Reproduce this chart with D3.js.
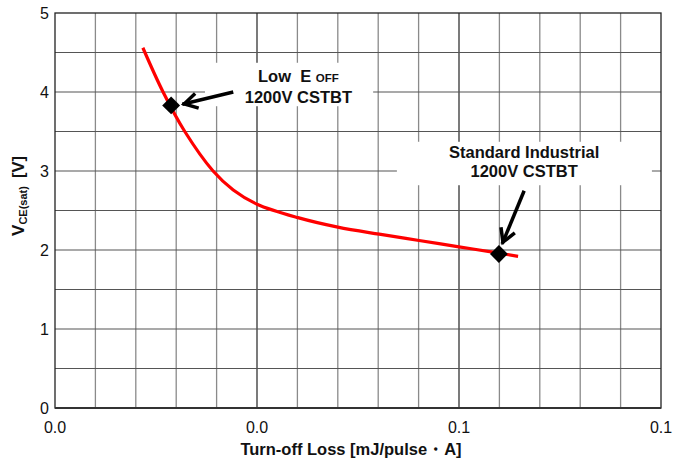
<!DOCTYPE html>
<html lang="en">
<head>
    <meta charset="UTF-8">
    <title>VCE(sat) vs Turn-off Loss</title>
    <script src="https://d3js.org/d3.v7.min.js"></script>
    <style>
        body { margin: 0; background: #fff; }
        svg { display: block; font-family: "Liberation Sans", Arial, sans-serif; }
        .tick-label { font-size: 16px; fill: #111; }
        .note { font-size: 16.5px; font-weight: bold; fill: #111; white-space: pre; }
    </style>
</head>
<body>
    <script>
        // curve
        const lossX = [0.0174, 0.0214, 0.0257, 0.0313, 0.0353, 0.0400, 0.0481, 0.0560, 0.0642, 0.0721, 0.0800, 0.0879, 0.0917];
        const vce = [4.56, 4.00, 3.50, 3.00, 2.76, 2.58, 2.41, 2.29, 2.20, 2.12, 2.04, 1.96, 1.92];

        // marked devices
        const deviceLoss = [0.0230, 0.0879];
        const deviceVce = [3.83, 1.95];

        const xTicks = [0, 0.04, 0.08, 0.12];
        const yTicks = [0, 1, 2, 3, 4, 5];

        const width = 673, height = 460;
        const margin = { top: 13, right: 12, bottom: 52, left: 55 };
        const w = width - margin.left - margin.right;
        const h = height - margin.top - margin.bottom;

        const svg = d3.select("body").append("svg")
            .attr("width", width)
            .attr("height", height);

        const g = svg.append("g")
            .attr("transform", `translate(${margin.left},${margin.top})`);

        const x = d3.scaleLinear().domain([0, 0.12]).range([0, w]);
        const y = d3.scaleLinear().domain([0, 5]).range([h, 0]);

        const isMajor = d => xTicks.some(t => Math.abs(t - d) < 1e-6);

        // grid: minor verticals every 0.008, horizontals every 0.5 V
        const xMinor = d3.range(1, 15).map(i => i * 0.008);
        g.append("g").selectAll("line")
            .data(xMinor)
            .enter().append("line")
            .attr("x1", d => x(d)).attr("x2", d => x(d))
            .attr("y1", 0).attr("y2", h)
            .attr("stroke", d => isMajor(d) ? "#333" : "#8a8a8a")
            .attr("stroke-width", d => isMajor(d) ? 1.3 : 1.3);

        const yGrid = d3.range(1, 10).map(i => i * 0.5);
        g.append("g").selectAll("line")
            .data(yGrid)
            .enter().append("line")
            .attr("x1", 0).attr("x2", w)
            .attr("y1", d => y(d)).attr("y2", d => y(d))
            .attr("stroke", "#555")
            .attr("stroke-width", 1.1);

        // white label boxes that hide the grid
        const boxes = [
            { x0: 0.0297, x1: 0.0630, y0: 3.82, y1: 4.37 },
            { x0: 0.0677, x1: 0.1182, y0: 2.82, y1: 3.37 }
        ];
        g.append("g").selectAll("rect")
            .data(boxes)
            .enter().append("rect")
            .attr("x", d => x(d.x0))
            .attr("y", d => y(d.y1))
            .attr("width", d => x(d.x1) - x(d.x0))
            .attr("height", d => y(d.y0) - y(d.y1))
            .attr("fill", "#fff");

        // plot frame
        g.append("rect")
            .attr("width", w).attr("height", h)
            .attr("fill", "none")
            .attr("stroke", "#222")
            .attr("stroke-width", 1.3);
        g.append("line")
            .attr("x1", 0).attr("x2", w)
            .attr("y1", h).attr("y2", h)
            .attr("stroke", "#333")
            .attr("stroke-width", 2.2);

        // tick labels
        g.append("g").selectAll("text")
            .data(xTicks)
            .enter().append("text")
            .attr("class", "tick-label")
            .attr("x", d => x(d))
            .attr("y", h + 25)
            .attr("text-anchor", "middle")
            .text(d => d3.format(".1f")(d));

        g.append("g").selectAll("text")
            .data(yTicks)
            .enter().append("text")
            .attr("class", "tick-label")
            .attr("x", -6)
            .attr("y", d => y(d) + 6)
            .attr("text-anchor", "end")
            .text(d => d);

        // axis titles
        svg.append("text")
            .attr("class", "note")
            .attr("x", margin.left + w / 2 - 7)
            .attr("y", 455)
            .attr("text-anchor", "middle")
            .text("Turn-off Loss [mJ/pulse\u30FBA]");

        const yTitle = svg.append("text")
            .attr("class", "note")
            .attr("transform", "translate(24,196) rotate(-90)")
            .attr("text-anchor", "middle");
        yTitle.append("tspan").attr("font-size", 17).text("V");
        yTitle.append("tspan").attr("font-size", 11).attr("dy", 3).text("CE(sat)");
        yTitle.append("tspan").attr("dy", -3).attr("dx", 8).text("[V]");

        // curve
        const line = d3.line()
            .x((d, i) => x(lossX[i]))
            .y(d => y(d))
            .curve(d3.curveCatmullRom.alpha(0.5));

        g.append("path")
            .datum(vce)
            .attr("d", line)
            .attr("fill", "none")
            .attr("stroke", "#ff0000")
            .attr("stroke-width", 3.2);

        // diamond markers
        g.append("g").selectAll("path")
            .data(deviceLoss)
            .enter().append("path")
            .attr("d", d3.symbol().type(d3.symbolSquare).size(160))
            .attr("transform", (d, i) => `translate(${x(d)},${y(deviceVce[i])}) rotate(45)`)
            .attr("fill", "#000");

        // arrows (tail -> tip, data units)
        const arrows = [
            { from: [0.0353, 4.00], to: [0.0256, 3.85] },
            { from: [0.0929, 2.75], to: [0.0887, 2.10] }
        ];
        arrows.forEach(a => {
            const x0 = x(a.from[0]), y0 = y(a.from[1]);
            const x1 = x(a.to[0]), y1 = y(a.to[1]);
            const ang = Math.atan2(y1 - y0, x1 - x0);
            const len = 15, spread = Math.PI / 6;
            const wing = s => [x1 - len * Math.cos(ang + s), y1 - len * Math.sin(ang + s)];
            g.append("line")
                .attr("x1", x0).attr("y1", y0)
                .attr("x2", x1 + 2 * Math.cos(ang)).attr("y2", y1 + 2 * Math.sin(ang))
                .attr("stroke", "#000").attr("stroke-width", 3.5);
            g.append("path")
                .attr("d", d3.line()([wing(spread), [x1, y1], wing(-spread)]))
                .attr("fill", "none")
                .attr("stroke", "#000")
                .attr("stroke-width", 3.5)
                .attr("stroke-linejoin", "miter");
        });

        // annotation text
        const note1 = g.append("text")
            .attr("class", "note")
            .attr("x", x(0.0482))
            .attr("y", y(4.0) - 10)
            .attr("text-anchor", "middle");
        note1.append("tspan").text("Low  E ");
        note1.append("tspan").attr("font-size", 11.5).text("OFF");
        g.append("text")
            .attr("class", "note")
            .attr("x", x(0.0482))
            .attr("y", y(4.0) + 11)
            .attr("text-anchor", "middle")
            .text("1200V CSTBT");

        g.append("text")
            .attr("class", "note")
            .attr("x", x(0.0929))
            .attr("y", y(3.0) - 13)
            .attr("text-anchor", "middle")
            .text("Standard Industrial");
        g.append("text")
            .attr("class", "note")
            .attr("x", x(0.0929))
            .attr("y", y(3.0) + 6)
            .attr("text-anchor", "middle")
            .text("1200V CSTBT");
    </script>
</body>
</html>
